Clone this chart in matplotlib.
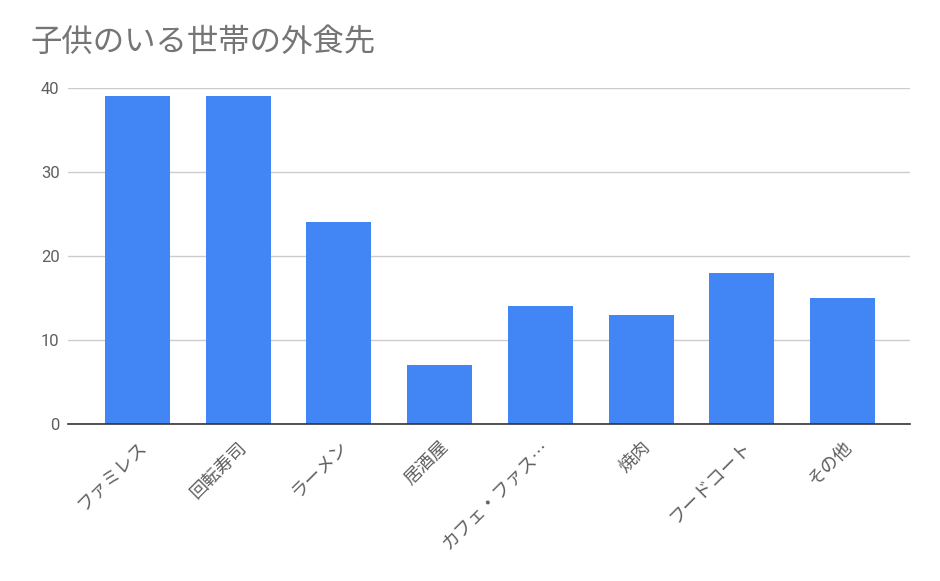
import matplotlib
matplotlib.use("Agg")
import matplotlib.pyplot as plt
import numpy as np

plt.rcParams['font.family'] = ['Noto Sans CJK JP', 'DejaVu Sans']

categories = ['ファミレス', '回転寿司', 'ラーメン', '居酒屋', 'カフェ・ファス…', '焼肉', 'フードコート', 'その他']
values = [39, 39, 24, 7, 14, 13, 18, 15]
yticks = [0, 10, 20, 30, 40]

fig = plt.figure(figsize=(9.4, 5.81), dpi=100)
ax = fig.add_axes([0.0723, 0.270, 0.896, 0.5785])

x = np.arange(len(categories))
ax.bar(x, values, width=0.645, color='#4285f4', zorder=3)

ax.set_xlim(-0.69, 7.67)
ax.set_ylim(0, 40)
ax.set_yticks(yticks)
ax.set_yticklabels([str(v) for v in yticks], family='Roboto')
ax.set_xticks(x)
ax.set_xticklabels(categories, rotation=45, ha='right', rotation_mode='anchor',
                   fontsize=13, color='#5f5f5f')
ax.tick_params(axis='y', labelsize=12, colors='#5f5f5f', length=0, pad=6)
ax.tick_params(axis='x', length=0, pad=10)
ax.grid(axis='y', color='#cccccc', linewidth=1, zorder=0)
for s in ['top', 'right', 'left']:
    ax.spines[s].set_visible(False)
ax.spines['bottom'].set_color('#333333')
ax.spines['bottom'].set_linewidth(1.2)
ax.spines['bottom'].set_zorder(4)

fig.text(0.032, 0.928, '子供のいる世帯の外食先', fontsize=22.6, color='#757575', va='center')

fig.savefig('out.png', dpi=100, facecolor='white')
